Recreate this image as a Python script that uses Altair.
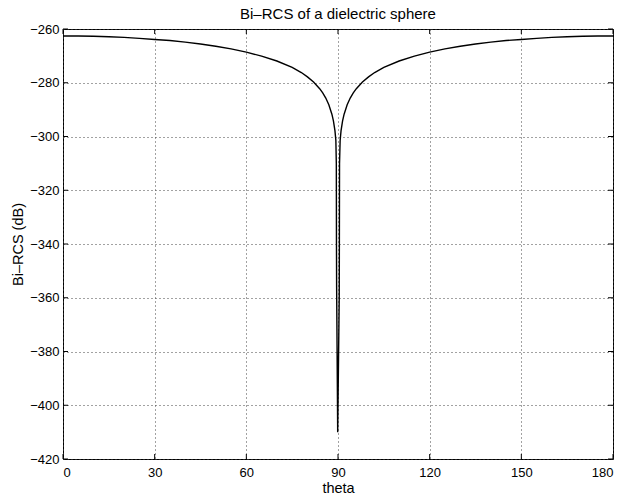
import altair as alt
import pandas as pd

# Bistatic RCS
theta = [0, 5, 10, 15, 20, 25, 30, 35, 40, 45, 50, 55, 60, 65, 70, 75, 78, 80, 82, 84,
         85, 86, 87, 88, 88.5, 89, 89.3, 89.45, 89.5, 89.55, 89.9,
         90.4, 90.45, 90.5, 90.7, 91, 91.5, 92, 93, 94, 95, 96, 98, 100, 102, 105,
         110, 115, 120, 125, 130, 135, 140, 145, 150, 155, 160, 165, 170, 175, 180]
rcs = [-262.6, -262.6, -262.7, -262.9, -263.1, -263.5, -263.9, -264.3, -264.9, -265.6,
       -266.4, -267.4, -268.6, -270.1, -271.9, -274.3, -276.2, -277.8, -279.7, -282.2,
       -283.8, -285.7, -288.2, -291.7, -294.2, -297.8, -301.5, -310.0, -340.0, -356.0,
       -410.0,
       -360.0, -340.0, -310.0, -301.5, -297.8, -294.2, -291.7, -288.2, -285.7,
       -283.8, -282.2, -279.7, -277.8, -276.2, -274.3, -271.9, -270.1, -268.6, -267.4,
       -266.4, -265.6, -264.9, -264.3, -263.9, -263.5, -263.1, -262.9, -262.7, -262.6,
       -262.6]

x_ticks = [0, 30, 60, 90, 120, 150, 180]
y_ticks = [-420, -400, -380, -360, -340, -320, -300, -280, -260]

W, H = 550, 430
FONT = "Liberation Sans"

df = pd.DataFrame({"theta": theta, "rcs": rcs})
xt = pd.DataFrame({"t": x_ticks})
yt = pd.DataFrame({"v": y_ticks})

xs = alt.Scale(domain=[0, 180], nice=False, zero=False)
ys = alt.Scale(domain=[-420, -260], nice=False, zero=False)

common_axis = dict(
    grid=True, gridDash=[1, 3], gridColor="#444444", gridWidth=1, gridOpacity=1,
    ticks=False, domain=False, labelFont=FONT, labelFontSize=13, labelColor="black",
    titleFont=FONT, titleFontSize=14.5, titleColor="black", titleFontWeight="normal",
)

line = alt.Chart(df).mark_line(color="black", strokeWidth=1.4).encode(
    x=alt.X("theta:Q", scale=xs,
            axis=alt.Axis(values=x_ticks, title="theta", titlePadding=2,
                          labelPadding=7, **common_axis)),
    y=alt.Y("rcs:Q", scale=ys,
            axis=alt.Axis(values=y_ticks, title="Bi\u2013RCS (dB)", titlePadding=4,
                          labelPadding=4,
                          labelExpr="replace(datum.label, '-', '\u2212')", **common_axis)),
)

tick_style = dict(color="black", strokeWidth=1)
xb = alt.Chart(xt).mark_rule(**tick_style).encode(
    x=alt.X("t:Q", scale=xs), y=alt.value(H), y2=alt.value(H - 5))
xtop = alt.Chart(xt).mark_rule(**tick_style).encode(
    x=alt.X("t:Q", scale=xs), y=alt.value(0), y2=alt.value(5))
yl = alt.Chart(yt).mark_rule(**tick_style).encode(
    y=alt.Y("v:Q", scale=ys), x=alt.value(0), x2=alt.value(5))
yr = alt.Chart(yt).mark_rule(**tick_style).encode(
    y=alt.Y("v:Q", scale=ys), x=alt.value(W), x2=alt.value(W - 5))

chart = (
    alt.layer(line, xb, xtop, yl, yr)
    .properties(
        width=W, height=H,
        title=alt.TitleParams("Bi\u2013RCS of a dielectric sphere", font=FONT, fontSize=15,
                              fontWeight="normal", color="black", offset=1),
        autosize=alt.AutoSizeParams(type="none"),
        padding={"left": 63, "top": 29, "right": 13, "bottom": 38},
        background="white",
    )
    .configure_view(stroke="black", strokeWidth=1)
)

chart.save("out.html", embed_options={"renderer": "svg", "actions": False})
